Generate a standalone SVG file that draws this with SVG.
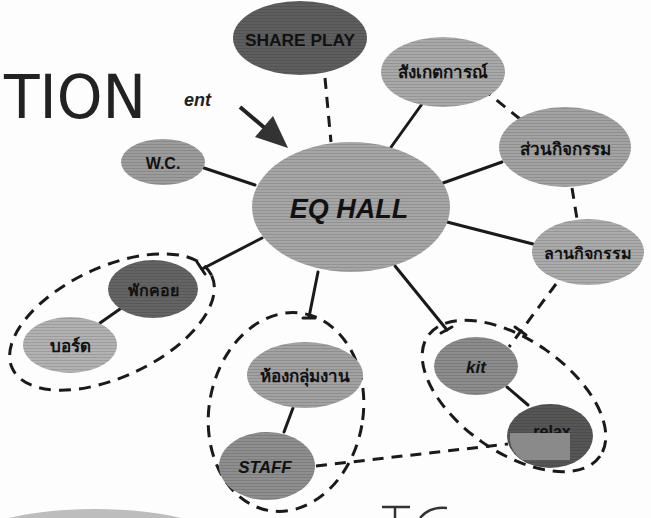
<svg xmlns="http://www.w3.org/2000/svg" width="651" height="518" viewBox="0 0 651 518">
<defs>
<style>
.lbl{font-family:"Liberation Sans","Noto Sans",sans-serif;font-weight:bold;fill:#111;text-anchor:middle;dominant-baseline:central}
.solid{stroke:#1a1a1a;stroke-width:3;fill:none;stroke-linecap:round}
.dash{stroke:#1a1a1a;stroke-width:3;fill:none;stroke-dasharray:11 8}
.grp{stroke:#1a1a1a;stroke-width:3;fill:none;stroke-dasharray:12 8}
</style>
<pattern id="tex" width="4" height="3" patternUnits="userSpaceOnUse">
<rect width="4" height="1" fill="#000" opacity="0.12"/>
</pattern>
</defs>
<rect width="651" height="518" fill="#fdfdfd"/>
<ellipse cx="95" cy="545" rx="130" ry="36" fill="#bdbdbd"/>
<text x="4" y="118" font-family="DejaVu Sans, sans-serif" font-size="60" fill="#222" textLength="142" lengthAdjust="spacingAndGlyphs">TION</text>
<path d="M382 507 H410 M395 507 V518 M447 508 Q430 506 420 518" stroke="#333" stroke-width="2.5" fill="none"/>
<g id="connectors">
<line class="dash" x1="325" y1="78" x2="331" y2="142"/>
<line class="dash" x1="520" y1="119" x2="489" y2="94"/>
<line class="dash" x1="572" y1="188" x2="577" y2="219"/>
<line class="dash" x1="556" y1="284" x2="509" y2="347"/>
<path class="solid" d="M515 327 l11 8"/>
<line class="dash" x1="316" y1="466" x2="508" y2="444"/>
<line class="solid" x1="255" y1="185" x2="204" y2="168"/>
<line class="solid" x1="389" y1="150" x2="422" y2="104"/>
<line class="solid" x1="443" y1="183" x2="502" y2="162"/>
<line class="solid" x1="447" y1="222" x2="533" y2="244"/>
<line class="solid" x1="262" y1="238" x2="202" y2="269"/>
<path class="solid" d="M197 262 l8 12"/>
<line class="solid" x1="318" y1="272" x2="309" y2="317"/>
<path class="solid" d="M303 318 h12"/>
<line class="solid" x1="395" y1="266" x2="447" y2="330"/>
<path class="solid" d="M441 333 l11 -6"/>
<line class="solid" x1="120" y1="309" x2="100" y2="323"/>
<line class="solid" x1="293" y1="408" x2="284" y2="432"/>
<line class="solid" x1="507" y1="387" x2="528" y2="405"/>
<line x1="240" y1="107" x2="266" y2="129" stroke="#222" stroke-width="4"/>
<polygon points="288,148 255,137 273,116" fill="#333"/>
<ellipse class="grp" cx="112" cy="322" rx="110" ry="55" transform="rotate(-25 112 322)"/>
<ellipse class="grp" cx="286" cy="412" rx="77" ry="100" transform="rotate(10 286 412)"/>
<ellipse class="grp" cx="514" cy="396" rx="105" ry="56" transform="rotate(35 514 396)"/>
</g>
<text x="184" y="106" font-family="Liberation Sans, sans-serif" font-weight="bold" font-style="italic" font-size="18" fill="#222">ent</text>
<g id="shareplay">
<ellipse cx="300" cy="38" rx="67" ry="37" fill="#5e5e5e"/>
<ellipse cx="300" cy="38" rx="67" ry="37" fill="url(#tex)"/>
<text class="lbl" x="300" y="40" font-size="16" fill="#222" textLength="110" lengthAdjust="spacingAndGlyphs">SHARE PLAY</text>
</g>
<g id="observe">
<ellipse cx="443" cy="72" rx="62" ry="35" fill="#a9a9a9"/>
<ellipse cx="443" cy="72" rx="62" ry="35" fill="url(#tex)"/>
<text class="lbl" x="443" y="72" font-size="17">สังเกตการณ์</text>
</g>
<g id="activity-part">
<ellipse cx="565" cy="147" rx="66" ry="40" fill="#a3a3a3"/>
<ellipse cx="565" cy="147" rx="66" ry="40" fill="url(#tex)"/>
<text class="lbl" x="565" y="149" font-size="17">ส่วนกิจกรรม</text>
</g>
<g id="wc">
<ellipse cx="163" cy="162" rx="42" ry="23" fill="#9c9c9c"/>
<ellipse cx="163" cy="162" rx="42" ry="23" fill="url(#tex)"/>
<text class="lbl" x="163" y="163" font-size="16">W.C.</text>
</g>
<g id="eqhall">
<ellipse cx="351" cy="207" rx="99" ry="65" fill="#a6a6a6"/>
<ellipse cx="351" cy="207" rx="99" ry="65" fill="url(#tex)"/>
<text class="lbl" x="349" y="209" font-size="27" font-style="italic">EQ HALL</text>
</g>
<g id="activity-yard">
<ellipse cx="588" cy="252" rx="56" ry="33" fill="#ababab"/>
<ellipse cx="588" cy="252" rx="56" ry="33" fill="url(#tex)"/>
<text class="lbl" x="588" y="253" font-size="16">ลานกิจกรรม</text>
</g>
<g id="waiting">
<ellipse cx="153" cy="289" rx="45" ry="29" fill="#646464"/>
<ellipse cx="153" cy="289" rx="45" ry="29" fill="url(#tex)"/>
<text class="lbl" x="153" y="290" font-size="16">พักคอย</text>
</g>
<g id="board">
<ellipse cx="70" cy="345" rx="47" ry="28" fill="#b2b2b2"/>
<ellipse cx="70" cy="345" rx="47" ry="28" fill="url(#tex)"/>
<text class="lbl" x="70" y="346" font-size="17">บอร์ด</text>
</g>
<g id="groupwork">
<ellipse cx="305" cy="375" rx="58" ry="33" fill="#a2a2a2"/>
<ellipse cx="305" cy="375" rx="58" ry="33" fill="url(#tex)"/>
<text class="lbl" x="305" y="376" font-size="17">ห้องกลุ่มงาน</text>
</g>
<g id="staff">
<ellipse cx="267" cy="466" rx="48" ry="34" fill="#8e8e8e"/>
<ellipse cx="267" cy="466" rx="48" ry="34" fill="url(#tex)"/>
<text class="lbl" x="265" y="467" font-size="17" font-style="italic" fill="#555">STAFF</text>
</g>
<g id="kit">
<ellipse cx="476" cy="366" rx="42" ry="29" fill="#8c8c8c"/>
<ellipse cx="476" cy="366" rx="42" ry="29" fill="url(#tex)"/>
<text class="lbl" x="476" y="367" font-size="17" font-style="italic">kit</text>
</g>
<g id="relax">
<ellipse cx="550" cy="436" rx="43" ry="32" fill="#565656"/>
<ellipse cx="550" cy="436" rx="43" ry="32" fill="url(#tex)"/>
<text class="lbl" x="552" y="431" font-size="16" fill="#222">relax</text>
<path d="M510 433 H570 V460 H522 A43 32 0 0 1 510 440 Z" fill="#8a8a8a"/>
</g>
</svg>
